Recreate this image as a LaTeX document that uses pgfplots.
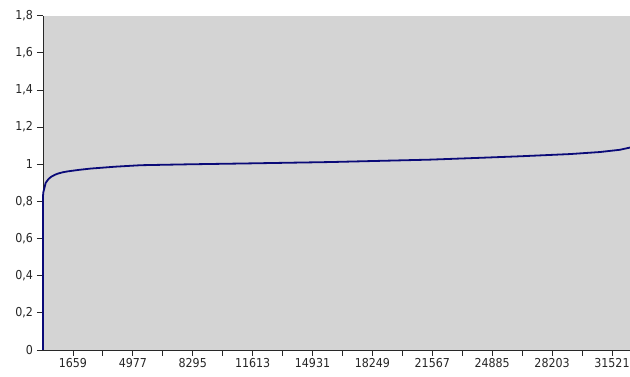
\documentclass[border=0pt]{standalone}
\usepackage{pgfplots}
\pgfplotsset{compat=1.18}
\usepackage{fontspec}
\setmainfont{DejaVu Sans Condensed}
\definecolor{plotbg}{RGB}{212,212,212}
\definecolor{navyline}{RGB}{10,10,120}
\definecolor{axcol}{RGB}{40,40,40}
\begin{document}
\begin{tikzpicture}[x=1pt,y=1pt]
\path[use as bounding box, fill=white] (0,0) rectangle (630,377);
\begin{axis}[
  at={(43pt,27pt)}, anchor=south west,
  scale only axis, width=587pt, height=334.3pt,
  xmin=0, xmax=32520, ymin=0, ymax=1.8,
  scaled x ticks=false, scaled y ticks=false,
  axis x line=bottom, axis y line=left,
  axis line style={axcol, line width=0.9pt, -},
  axis background/.style={fill=plotbg},
  xtick={1659,4977,8295,11613,14931,18249,21567,24885,28203,31521},
  xticklabels={1659,4977,8295,11613,14931,18249,21567,24885,28203,31521},
  minor xtick={3318,6636,9954,13272,16590,19908,23226,26544,29862},
  ytick={0,0.2,0.4,0.6,0.8,1,1.2,1.4,1.6,1.8},
  yticklabels={0,{0,2},{0,4},{0,6},{0,8},1,{1,2},{1,4},{1,6},{1,8}},
  tick align=outside,
  major tick length=6pt, minor tick length=6pt,
  tick style={axcol, line width=0.8pt},
  tick label style={font=\fontsize{12.3}{13}\selectfont, text=black!85},
  xticklabel style={yshift=0pt, inner ysep=2pt},
  yticklabel style={xshift=-0.5pt},
  clip=false,
]
\addplot[navyline, line width=1.8pt, line join=round] coordinates {
(0,0.0) (1,0.80) (5,0.835) (20,0.85) (72,0.87) (150,0.9) (300,0.92) (442,0.932)
(650,0.943) (830,0.95) (1100,0.957) (1383,0.962) (2000,0.97) (2654,0.977)
(4000,0.987) (5420,0.995) (8185,1.0) (10950,1.004) (15930,1.012) (21460,1.025)
(24000,1.034) (26430,1.043) (29200,1.055) (30860,1.066) (31960,1.078) (32520,1.09)
};
\end{axis}
\end{tikzpicture}
\end{document}
